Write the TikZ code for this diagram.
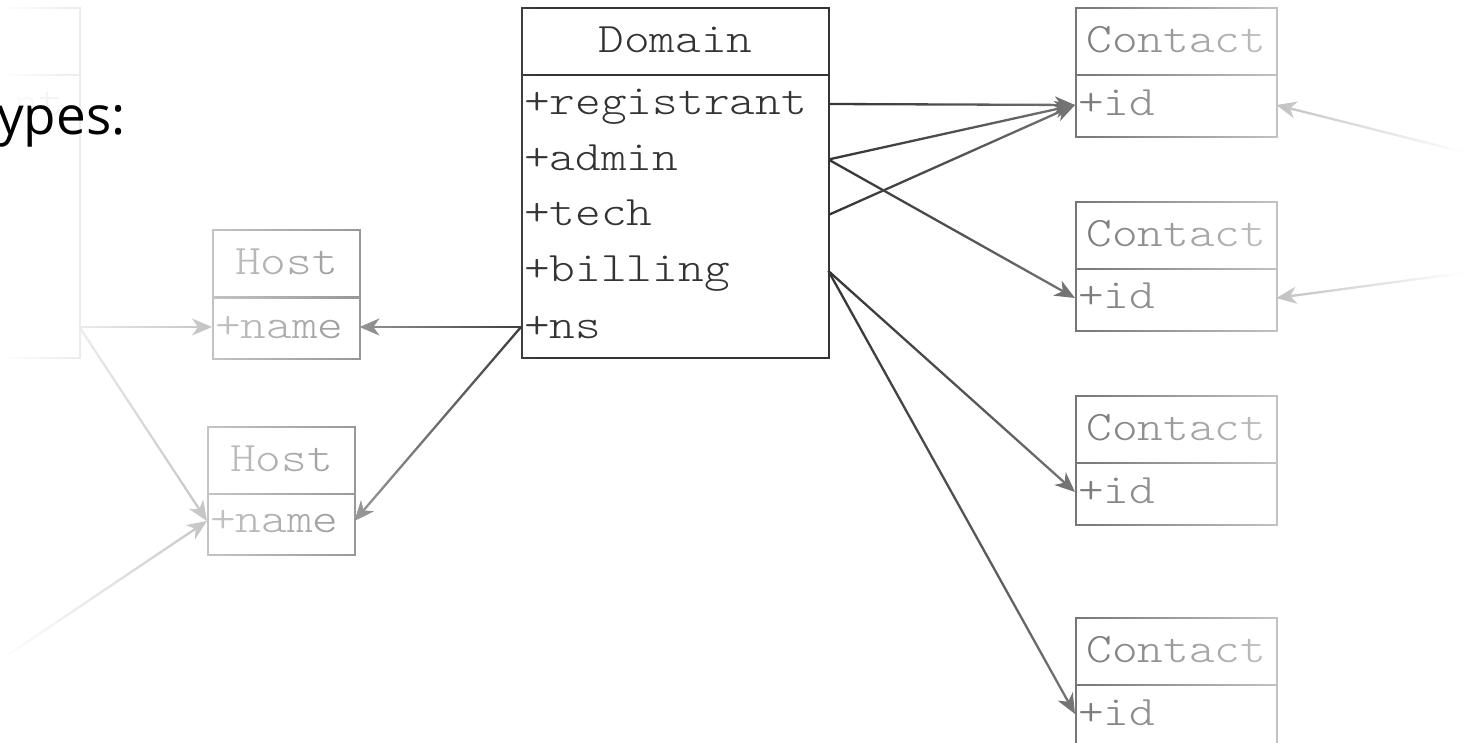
\documentclass[tikz,border=0pt]{standalone}
\usepackage{fontspec}
\newfontfamily\slidefont{Open Sans}
\usetikzlibrary{arrows.meta,fadings}
\newcommand\umlf{\fontfamily{lmtt}\fontseries{l}\fontshape{n}\fontsize{42}{48}\selectfont}
\newcommand\stx[1]{\scalebox{1.165}[1]{#1}}
\definecolor{base}{HTML}{333333}
\pgfdeclarehorizontalshading{rshade}{100bp}{gray(0bp)=(0); gray(25bp)=(0); gray(34.7bp)=(0.14); gray(44bp)=(0.33); gray(59bp)=(0.70); gray(73bp)=(1); gray(100bp)=(1)}
\pgfdeclarehorizontalshading{lshade}{100bp}{gray(0bp)=(1); gray(26.8bp)=(1); gray(33.8bp)=(0.91); gray(45.7bp)=(0.71); gray(58.4bp)=(0.5); gray(67bp)=(0.25); gray(75bp)=(0); gray(100bp)=(0)}
\begin{tikzfadingfrompicture}[name=fadeR]
  \shade[shading=rshade] (-25bp,-25bp) rectangle (25bp,25bp);
\end{tikzfadingfrompicture}
\begin{tikzfadingfrompicture}[name=fadeL]
  \shade[shading=lshade] (-25bp,-25bp) rectangle (25bp,25bp);
\end{tikzfadingfrompicture}
\tikzset{
  umlbox/.style={draw=base, line width=1.8pt, anchor=north west, inner sep=0pt},
  hdr/.style={umlbox, minimum height=67pt, font=\umlf, text=base, text height=30pt, text depth=8pt},
  row/.style={anchor=west, inner xsep=3pt, inner ysep=0pt, font=\umlf, text=base, text height=30pt, text depth=8pt, align=left},
  link/.style={draw=base, line width=2.3pt, -{Stealth[length=20pt,width=17pt,inset=6pt]}},
}
\begin{document}
\begin{tikzpicture}[x=1pt,y=-1pt]
\path[use as bounding box] (0,0) rectangle (1473,743);
\clip (0,0) rectangle (1473,743);
% ghost domain box (left, cut off)
\node[hdr, minimum width=307pt] (gH) at (-228,7) {};
\node[umlbox, minimum width=307pt, minimum height=283pt] (gB) at (-228,74) {};
\node[row, text width=301pt] (gns) at (-228,327) {};
\node[anchor=base west, inner sep=0pt, font=\umlf, text=base] (gnt) at (13,116) {\stx{nt}};
% Domain
\node[hdr, minimum width=307pt] (domH) at (521,7) {\stx{Domain}};
\node[umlbox, minimum width=307pt, minimum height=283pt] (domB) at (521,74) {};
\node[row, text width=301pt] (dreg) at (521,104) {\stx{+registrant}};
\node[row, text width=301pt] (dadm) at (521,159.5) {\stx{+admin}};
\node[row, text width=301pt] (dtec) at (521,215) {\stx{+tech}};
\node[row, text width=301pt] (dbil) at (521,271) {\stx{+billing}};
\node[row, text width=301pt] (dns) at (521,327) {\stx{+ns}};
% Contacts
\node[hdr, minimum width=201pt] (c1H) at (1075,7) {\stx{Contact}};
\node[umlbox, minimum width=201pt, minimum height=62pt] (c1B) at (1075,74) {};
\node[row, text width=195pt] (c1) at (1075,105) {\stx{+id}};
\node[hdr, minimum width=201pt] (c2H) at (1075,201) {\stx{Contact}};
\node[umlbox, minimum width=201pt, minimum height=62pt] (c2B) at (1075,268) {};
\node[row, text width=195pt] (c2) at (1075,298) {\stx{+id}};
\node[hdr, minimum width=201pt] (c3H) at (1075,395) {\stx{Contact}};
\node[umlbox, minimum width=201pt, minimum height=62pt] (c3B) at (1075,462) {};
\node[row, text width=195pt] (c3) at (1075,492) {\stx{+id}};
\node[hdr, minimum width=201pt] (c4H) at (1075,617) {\stx{Contact}};
\node[umlbox, minimum width=201pt, minimum height=62pt] (c4B) at (1075,684) {};
\node[row, text width=195pt] (c4) at (1075,714) {\stx{+id}};
% Hosts
\node[hdr, minimum width=147pt] (h1H) at (212,229) {\stx{Host}};
\node[umlbox, minimum width=147pt, minimum height=61pt] (h1B) at (212,297) {};
\node[row, text width=141pt] (h1) at (212,327) {\stx{+name}};
\node[hdr, minimum width=147pt] (h2H) at (207,426) {\stx{Host}};
\node[umlbox, minimum width=147pt, minimum height=61pt] (h2B) at (207,493) {};
\node[row, text width=141pt] (h2) at (207,521) {\stx{+name}};
% free ends
\coordinate (gl) at (-25,677);
\coordinate (gr1) at (1500,161);
\coordinate (gr2) at (1500,268);
% connectors
\draw[link] (dreg.east) -- (c1.west);
\draw[link] (dadm.east) -- (c1.west);
\draw[link] (dtec.east) -- (c1.west);
\draw[link] (dadm.east) -- (c2.west);
\draw[link] (dbil.east) -- (c3.west);
\draw[link] (dbil.east) -- (c4.west);
\draw[link] (dns.west) -- (h1.east);
\draw[link] (dns.west) -- (h2.east);
\draw[link] (gns.east) -- (h1.west);
\draw[link] (gns.east) -- (h2.west);
\draw[link] (gl) -- (h2.west);
\draw[link] (gr1) -- (c1.east);
\draw[link] (gr2) -- (c2.east);
% edge fades
\fill[white, path fading=fadeR] (820,-10) rectangle (1490,760);
\fill[white, path fading=fadeL] (-20,-10) rectangle (540,760);
% slide text
\node[anchor=base west, inner sep=0pt, font=\slidefont\fontsize{53}{60}\selectfont, text=black] (types) at (-3,135) {ypes:};
\end{tikzpicture}
\end{document}
